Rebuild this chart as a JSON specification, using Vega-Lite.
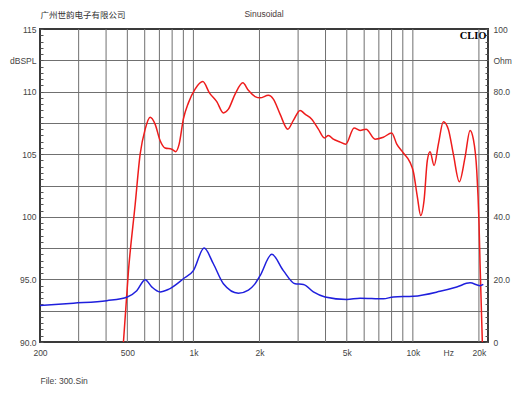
{
 "$schema": "https://vega.github.io/schema/vega-lite/v6.json",
 "width": 448,
 "height": 313,
 "autosize": "none",
 "padding": {"left": 40, "top": 29, "right": 42, "bottom": 56},
 "background": "white",
 "title": {"text": "Sinusoidal", "anchor": "middle", "frame": "group", "font": "Liberation Sans", "fontSize": 8.5, "fontWeight": "normal", "color": "#4a3a3a", "offset": 0, "dy": 8},
 "config": {"view": {"stroke": "#3a3a3a", "strokeWidth": 2}, "font": "Liberation Sans"},
 "encoding": {
  "x": {"field": "f", "type": "quantitative", "scale": {"type": "log", "domain": [200, 22000], "nice": false},
   "axis": {"values": [200, 500, 1000, 2000, 5000, 10000, 14500, 20000],
    "labelExpr": "datum.value===1000?'1k':datum.value===2000?'2k':datum.value===5000?'5k':datum.value===10000?'10k':datum.value===14500?'Hz':datum.value===20000?'20k':datum.value===500?'500':'200'",
    "grid": false, "ticks": false, "domain": false, "labelPadding": 6, "labelFontSize": 8.5, "labelColor": "#444", "labelFlush": false, "labelOverlap": false, "labelBound": false,
    "title": "File: 300.Sin", "titleAnchor": "start", "titleAlign": "left", "titleX": 0, "titleY": 38, "titleFontSize": 8.5, "titleFontWeight": "normal", "titleColor": "#444", "titleBaseline": "middle"}}
 },
 "layer": [
  {
   "data": {"values": [{"f":300},{"f":400},{"f":500},{"f":600},{"f":700},{"f":800},{"f":900},{"f":1000},{"f":2000},{"f":3000},{"f":4000},{"f":5000},{"f":6000},{"f":7000},{"f":8000},{"f":9000},{"f":10000},{"f":20000}]},
   "mark": {"type": "rule", "color": "#707070", "strokeWidth": 1}
  },
  {
   "data": {"values": [
    {"f":480,"spl":90},{"f":506,"spl":95.7},{"f":543,"spl":101},{"f":572,"spl":105},{"f":603,"spl":107},{"f":635,"spl":107.95},{"f":669,"spl":107.4},{"f":705,"spl":106.1},{"f":743,"spl":105.5},{"f":797,"spl":105.4},{"f":831,"spl":105.2},{"f":861,"spl":105.8},{"f":900,"spl":107.8},{"f":949,"spl":109.1},{"f":1018,"spl":110.2},{"f":1104,"spl":110.8},{"f":1183,"spl":109.9},{"f":1278,"spl":109.2},{"f":1370,"spl":108.3},{"f":1444,"spl":108.6},{"f":1549,"spl":109.8},{"f":1680,"spl":110.7},{"f":1781,"spl":110.1},{"f":1910,"spl":109.6},{"f":2014,"spl":109.5},{"f":2196,"spl":109.7},{"f":2314,"spl":109.4},{"f":2483,"spl":108.2},{"f":2692,"spl":107.0},{"f":2855,"spl":107.7},{"f":3063,"spl":108.5},{"f":3228,"spl":108.2},{"f":3462,"spl":107.8},{"f":3711,"spl":107.0},{"f":3953,"spl":106.3},{"f":4121,"spl":106.5},{"f":4343,"spl":106.2},{"f":4626,"spl":106.0},{"f":4946,"spl":105.8},{"f":5397,"spl":107.1},{"f":5747,"spl":106.9},{"f":6121,"spl":107.0},{"f":6726,"spl":106.2},{"f":7338,"spl":106.35},{"f":8013,"spl":106.7},{"f":8447,"spl":105.8},{"f":9050,"spl":105.1},{"f":9710,"spl":104.35},{"f":10053,"spl":103.6},{"f":10483,"spl":101.6},{"f":10863,"spl":100.1},{"f":11246,"spl":101.3},{"f":11641,"spl":104.5},{"f":11978,"spl":105.2},{"f":12496,"spl":104.1},{"f":13071,"spl":105.8},{"f":13771,"spl":107.6},{"f":14510,"spl":107.0},{"f":15294,"spl":105.0},{"f":16285,"spl":102.8},{"f":17290,"spl":104.75},{"f":18223,"spl":106.9},{"f":18864,"spl":106.2},{"f":19548,"spl":103.7},{"f":20025,"spl":99.45},{"f":20236,"spl":96.3},{"f":20731,"spl":90}
   ]},
   "mark": {"type": "line", "color": "#ee1c1c", "strokeWidth": 1.5, "interpolate": "monotone", "clip": true},
   "encoding": {
    "y": {"field": "spl", "type": "quantitative", "scale": {"domain": [90, 115], "zero": false, "nice": false},
     "axis": {"orient": "left",
      "title": "广州世韵电子有限公司", "titleAngle": 0, "titleX": 0, "titleY": -15, "titleAlign": "left", "titleBaseline": "middle", "titleFont": "Noto Sans CJK SC", "titleFontSize": 8.5, "titleFontWeight": "normal", "titleColor": "#333",
      "values": [90,90.5,91,91.5,92,92.5,93,93.5,94,94.5,95,95.5,96,96.5,97,97.5,98,98.5,99,99.5,100,100.5,101,101.5,102,102.5,103,103.5,104,104.5,105,105.5,106,106.5,107,107.5,108,108.5,109,109.5,110,110.5,111,111.5,112,112.5,113,113.5,114,114.5,115],
      "labelExpr": "datum.value===115?'115':datum.value===112.5?'dBSPL':datum.value===110?'110':datum.value===105?'105':datum.value===100?'100':datum.value===95?'95.0':datum.value===90?'90.0':''",
      "grid": true, "gridColor": "#707070", "gridWidth": 1,
      "gridOpacity": {"condition": {"test": "datum.value % 2.5 === 0 && datum.value > 90 && datum.value < 115", "value": 1}, "value": 0},
      "domain": false, "ticks": true, "tickSize": -3, "tickColor": "#555", "tickWidth": 1,
      "labelPadding": 7, "labelFontSize": 8.5, "labelColor": "#444", "labelOverlap": false, "labelBound": false, "labelFlush": false, "labelBaseline": "middle"}}
   }
  },
  {
   "data": {"values": [
    {"f":200,"ohm":11.7},{"f":284,"ohm":12.4},{"f":403,"ohm":13.2},{"f":500,"ohm":14.4},{"f":552,"ohm":16.4},{"f":603,"ohm":19.9},{"f":646,"ohm":17.6},{"f":705,"ohm":16.0},{"f":769,"ohm":16.8},{"f":900,"ohm":20.2},{"f":1000,"ohm":22.8},{"f":1119,"ohm":30.0},{"f":1233,"ohm":25.0},{"f":1370,"ohm":18.6},{"f":1603,"ohm":15.6},{"f":1781,"ohm":16.6},{"f":1900,"ohm":18.4},{"f":2014,"ohm":21.2},{"f":2276,"ohm":28.0},{"f":2570,"ohm":22.8},{"f":2906,"ohm":18.6},{"f":3171,"ohm":18.4},{"f":3521,"ohm":16.0},{"f":3981,"ohm":14.4},{"f":5000,"ohm":13.6},{"f":5747,"ohm":14.0},{"f":7338,"ohm":13.8},{"f":8152,"ohm":14.4},{"f":10053,"ohm":14.6},{"f":13303,"ohm":16.2},{"f":15849,"ohm":17.6},{"f":18223,"ohm":18.9},{"f":20236,"ohm":18.0},{"f":20950,"ohm":18.4}
   ]},
   "mark": {"type": "line", "color": "#1f1fdd", "strokeWidth": 1.5, "interpolate": "monotone", "clip": true},
   "encoding": {
    "y": {"field": "ohm", "type": "quantitative", "scale": {"domain": [0, 100], "nice": false},
     "axis": {"orient": "right",
      "title": "CLIO", "titleAngle": 0, "titleX": -2, "titleY": 6, "titleAlign": "right", "titleBaseline": "middle", "titleFont": "Liberation Serif", "titleFontSize": 10.5, "titleFontWeight": "bold", "titleColor": "#000",
      "values": [0,2,4,6,8,10,12,14,16,18,20,22,24,26,28,30,32,34,36,38,40,42,44,46,48,50,52,54,56,58,60,62,64,66,68,70,72,74,76,78,80,82,84,86,88,90,92,94,96,98,100],
      "labelExpr": "datum.value===100?'100':datum.value===90?'Ohm':datum.value===80?'80.0':datum.value===60?'60.0':datum.value===40?'40.0':datum.value===20?'20.0':datum.value===0?'0':''",
      "grid": false, "domain": false, "ticks": true, "tickSize": -3, "tickColor": "#555", "tickWidth": 1,
      "labelPadding": 8, "labelFontSize": 8.5, "labelColor": "#444", "labelOverlap": false, "labelBound": false, "labelFlush": false, "labelBaseline": "middle"}}
   }
  }
 ],
 "resolve": {"scale": {"y": "independent"}}
}
